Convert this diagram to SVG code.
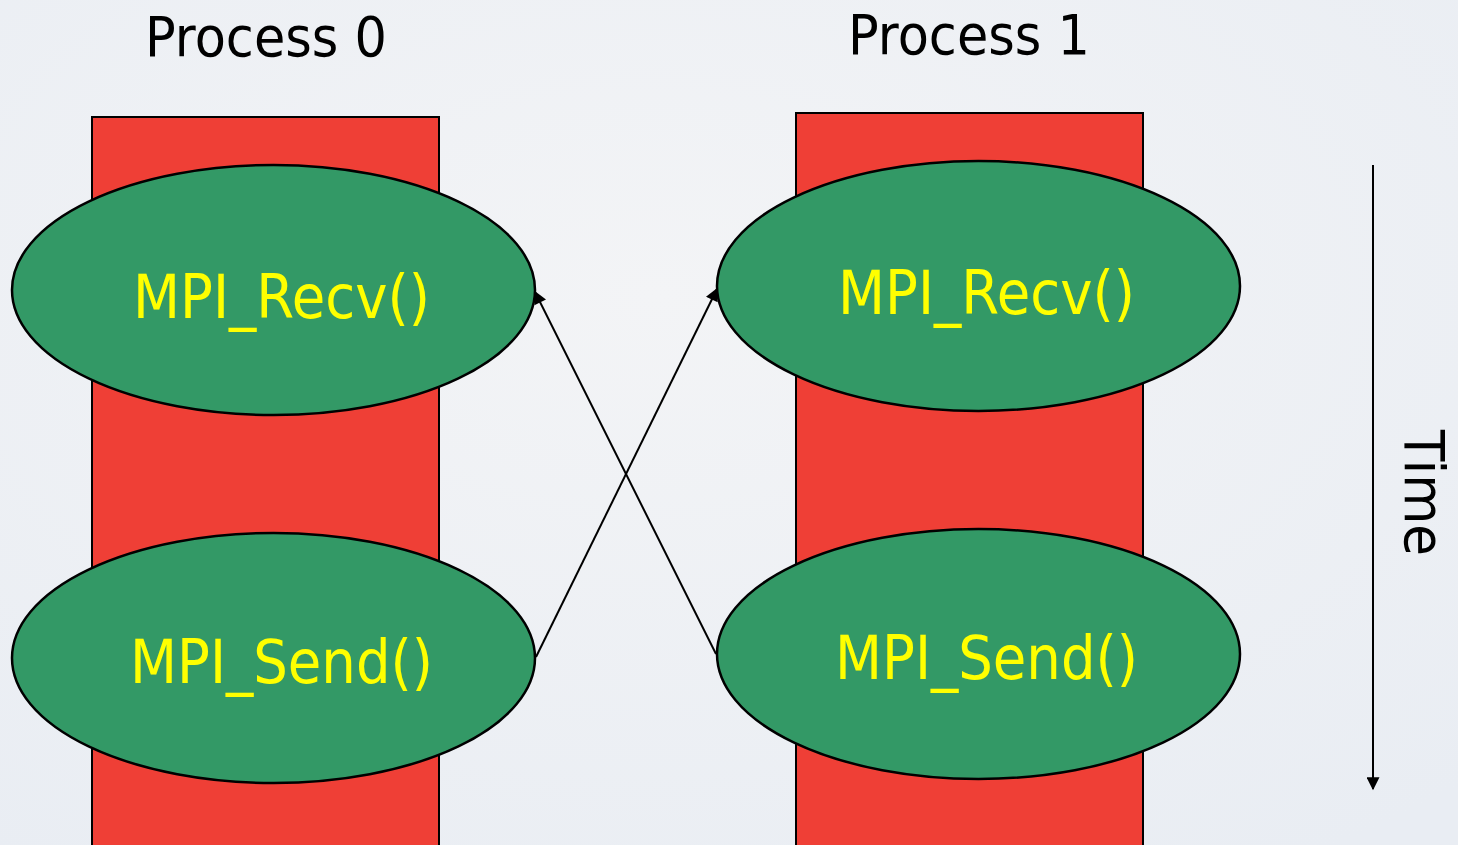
<svg xmlns="http://www.w3.org/2000/svg" width="1458" height="845" viewBox="0 0 1458 845">
<defs>
<marker id="ah" viewBox="0 0 10 10" refX="9" refY="5" markerWidth="14" markerHeight="13" markerUnits="userSpaceOnUse" orient="auto">
<path d="M0,0 L10,5 L0,10 z" fill="#000"/>
</marker>
<radialGradient id="bg" cx="0.45" cy="0.35" r="0.8">
<stop offset="0" stop-color="#f3f4f6"/>
<stop offset="1" stop-color="#e9edf3"/>
</radialGradient>
</defs>
<style>
.proc{fill:#ef3f36;stroke:#000;stroke-width:2}
.call{fill:#339966;stroke:#000;stroke-width:2.5}
.lbl{font-family:"DejaVu Sans",Verdana,sans-serif;font-size:60px;fill:#ffff00}
.title{font-family:"DejaVu Sans",Verdana,sans-serif;font-size:56px;fill:#000}
.conn{stroke:#000;stroke-width:2;fill:none}
</style>
<rect x="0" y="0" width="1458" height="845" fill="url(#bg)"/>
<g id="title0"><text class="title" x="145" y="56" textLength="242" lengthAdjust="spacingAndGlyphs">Process 0</text></g>
<g id="title1"><text class="title" x="848" y="54" textLength="242" lengthAdjust="spacingAndGlyphs">Process 1</text></g>
<g id="process0"><rect class="proc" x="92" y="117" width="347" height="740"/></g>
<g id="process1"><rect class="proc" x="796" y="113" width="347" height="744"/></g>
<g id="recv0"><ellipse class="call" cx="273.5" cy="290" rx="261.5" ry="125"/><text class="lbl" x="133" y="318" textLength="297" lengthAdjust="spacingAndGlyphs">MPI_Recv()</text></g>
<g id="send0"><ellipse class="call" cx="273.5" cy="658" rx="261.5" ry="125"/><text class="lbl" x="130" y="683" textLength="303" lengthAdjust="spacingAndGlyphs">MPI_Send()</text></g>
<g id="recv1"><ellipse class="call" cx="978.5" cy="286" rx="261.5" ry="125"/><text class="lbl" x="838" y="314" textLength="297" lengthAdjust="spacingAndGlyphs">MPI_Recv()</text></g>
<g id="send1"><ellipse class="call" cx="978.5" cy="654" rx="261.5" ry="125"/><text class="lbl" x="835" y="679" textLength="303" lengthAdjust="spacingAndGlyphs">MPI_Send()</text></g>
<g id="time"><text class="title" transform="translate(1405,430) rotate(90)" textLength="126" lengthAdjust="spacingAndGlyphs">Time</text></g>
<g id="connectors">
<line class="conn" x1="536" y1="657" x2="717" y2="289" marker-end="url(#ah)"/>
<line class="conn" x1="716" y1="654" x2="535" y2="292" marker-end="url(#ah)"/>
<line class="conn" x1="1373" y1="165" x2="1373" y2="789" marker-end="url(#ah)"/>
</g>
</svg>
